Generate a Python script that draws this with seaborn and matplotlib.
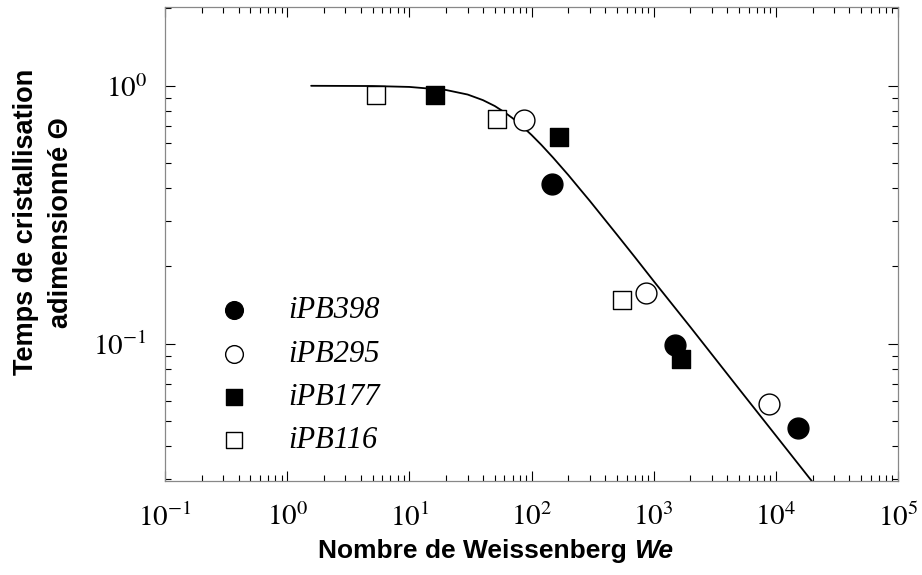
import matplotlib
matplotlib.use('Agg')
import matplotlib.pyplot as plt
import matplotlib.ticker as mticker
import seaborn as sns

# Data
series_names = ['iPB398', 'iPB295', 'iPB177', 'iPB116']
iPB398_x = [146, 1500, 15200]
iPB398_y = [0.417, 0.099, 0.047]
iPB295_x = [86, 867, 8750]
iPB295_y = [0.738, 0.158, 0.0585]
iPB177_x = [16.2, 167, 1680]
iPB177_y = [0.923, 0.634, 0.0875]
iPB116_x = [5.3, 52.5, 551]
iPB116_y = [0.923, 0.745, 0.148]

# Master curve, points
curve_x = [1.57, 5, 10, 20, 30, 40, 50, 60, 70, 80, 100, 120, 150, 200, 250,
           300, 500, 700, 1000, 2000, 5000, 10000, 20000]
curve_y = [1.0, 0.998, 0.990, 0.963, 0.925, 0.880, 0.835, 0.790, 0.749, 0.711,
           0.645, 0.591, 0.527, 0.451, 0.397, 0.358, 0.265, 0.217, 0.175,
           0.116, 0.0668, 0.0441, 0.0291]

x_tick_values = [1e-1, 1e0, 1e1, 1e2, 1e3, 1e4, 1e5]
x_tick_labels = ['$10^{-1}$', '$10^{0}$', '$10^{1}$', '$10^{2}$', '$10^{3}$', '$10^{4}$', '$10^{5}$']
y_tick_values = [1e-1, 1e0]
y_tick_labels = ['$10^{-1}$', '$10^{0}$']

sns.set_style('ticks')
plt.rcParams['font.family'] = ['Liberation Sans', 'DejaVu Sans']
plt.rcParams['mathtext.fontset'] = 'stix'
plt.rcParams['text.color'] = 'black'
plt.rcParams['axes.labelcolor'] = 'black'
plt.rcParams['xtick.labelcolor'] = 'black'
plt.rcParams['ytick.labelcolor'] = 'black'

fig = plt.figure(figsize=(9.22, 5.75), dpi=100)
ax = fig.add_axes([0.179, 0.1635, 0.795, 0.8243])

sns.lineplot(x=curve_x, y=curve_y, color='black', linewidth=1.3, ax=ax, zorder=2)

series = {
    'iPB398': (iPB398_x, iPB398_y, 'o', 'black', 225),
    'iPB295': (iPB295_x, iPB295_y, 'o', 'white', 225),
    'iPB177': (iPB177_x, iPB177_y, 's', 'black', 170),
    'iPB116': (iPB116_x, iPB116_y, 's', 'white', 170),
}
for name in series_names:
    xs, ys, m, fc, s = series[name]
    sns.scatterplot(x=xs, y=ys, marker=m, s=s, color=fc, edgecolor='black',
                    linewidth=1.0, label=name, ax=ax, zorder=3)

ax.set_xscale('log')
ax.set_yscale('log')
ax.set_xlim(0.1, 1e5)
ax.set_ylim(0.0294, 2.02)

ax.set_xticks(x_tick_values, labels=x_tick_labels)
ax.set_yticks(y_tick_values, labels=y_tick_labels)
ax.xaxis.set_minor_locator(mticker.LogLocator(base=10, subs=range(2, 10), numticks=20))
ax.yaxis.set_minor_locator(mticker.LogLocator(base=10, subs=range(2, 10), numticks=20))
ax.xaxis.set_minor_formatter(mticker.NullFormatter())
ax.yaxis.set_minor_formatter(mticker.NullFormatter())
ax.tick_params(which='both', direction='in', top=True, right=True, color='black', width=0.8)
ax.tick_params(which='major', length=7, labelsize=21)
ax.tick_params(axis='x', which='major', pad=16)
ax.tick_params(axis='y', which='major', pad=13)
ax.tick_params(which='minor', length=4)
for sp in ax.spines.values():
    sp.set_color('#888888')
    sp.set_linewidth(0.9)

# axis titles
ax.set_ylabel('Temps de cristallisation\nadimensionné Θ', fontsize=19.5, fontweight='bold',
              va='center', linespacing=1.45)
ax.yaxis.set_label_coords(-0.166, 0.546)

t1 = fig.text(318 / 922, 1 - 551 / 575, 'Nombre de Weissenberg ', fontsize=19,
              fontweight='bold', ha='left', va='center')
fig.canvas.draw()
bb = t1.get_window_extent()
fig.text(bb.x1 / fig.bbox.width, 1 - 551 / 575, 'We', fontsize=19, fontweight='bold',
         style='italic', ha='left', va='center')

leg = ax.legend(loc='upper left', bbox_to_anchor=(0.032, 0.422), frameon=False,
                prop={'family': 'Liberation Serif', 'style': 'italic', 'size': 22},
                handletextpad=0.75, labelspacing=0.47, markerscale=0.85, borderpad=0)

plt.savefig('out.png', dpi=100)
